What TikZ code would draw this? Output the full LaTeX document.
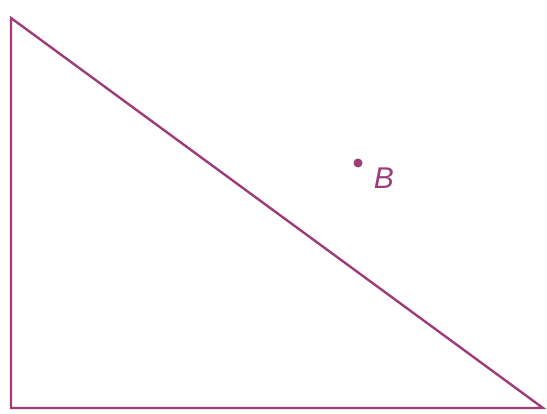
\documentclass[tikz,border=0pt]{standalone}
\usepackage{fontspec}
\setsansfont{Liberation Sans}
\usetikzlibrary{positioning}
\definecolor{tri}{HTML}{9E3C7A}

\begin{document}
\begin{tikzpicture}[x=1pt,y=1pt,every node/.style={font=\sffamily\itshape\fontsize{30}{30}\selectfont,text=tri}]
    \useasboundingbox (0,0) rectangle (547,413);
    \coordinate (top) at (11,395);
    \coordinate (corner) at (11,5);
    \coordinate (right) at (543,5);
    \draw[tri,line width=2.4pt,line join=miter] (top) -- (corner) -- (right) -- cycle;
    \node[circle,fill=tri,inner sep=0pt,minimum size=9pt] (dotB) at (358,250) {};
    \node[right=11pt of dotB,yshift=-15pt,inner sep=0pt] (labB) {B};
  \end{tikzpicture}
\end{document}
